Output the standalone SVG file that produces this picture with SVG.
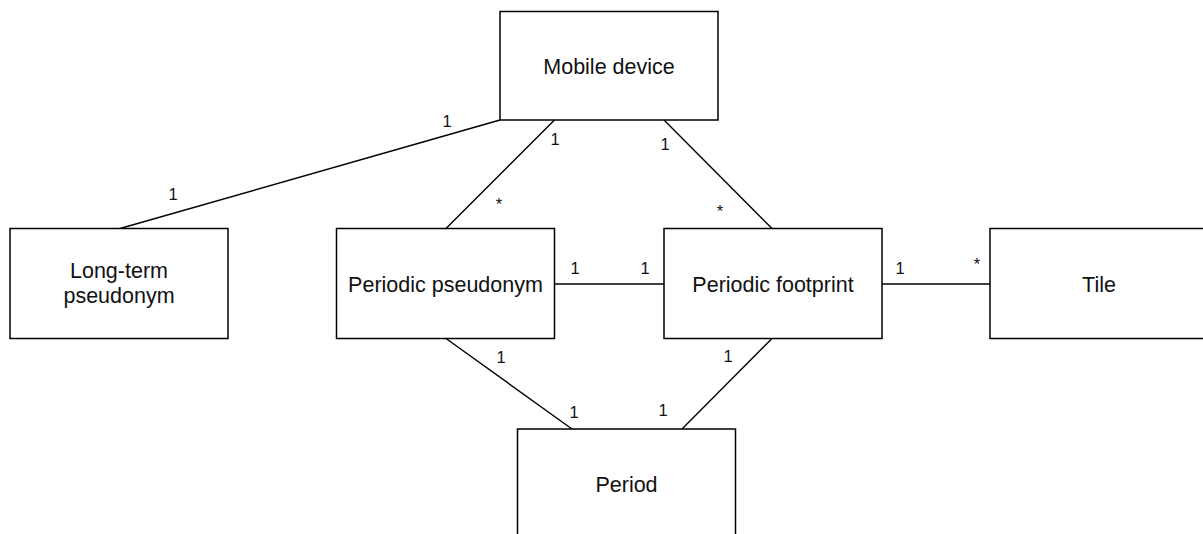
<svg xmlns="http://www.w3.org/2000/svg" width="1203" height="534" viewBox="0 0 1203 534">
  <style>
    .box { fill: #ffffff; stroke: #000000; stroke-width: 1.5; }
    .name { font-family: "Liberation Sans", Arial, Helvetica, sans-serif; font-size: 21.5px; fill: #111111; text-anchor: middle; }
    .link { stroke: #000000; stroke-width: 1.4; fill: none; }
    .mult { font-family: "Liberation Sans", Arial, Helvetica, sans-serif; font-size: 16.5px; fill: #111111; text-anchor: middle; }
  </style>
  <rect x="0" y="0" width="1203" height="534" fill="#ffffff"/>

  <!-- associations -->
  <g id="connectors">
    <line class="link" x1="500" y1="120" x2="120" y2="228.5"/>
    <line class="link" x1="554.5" y1="120" x2="446" y2="228.5"/>
    <line class="link" x1="664" y1="120" x2="772" y2="228.5"/>
    <line class="link" x1="554.5" y1="284" x2="664" y2="284"/>
    <line class="link" x1="882" y1="284" x2="990" y2="284"/>
    <line class="link" x1="446" y1="338.5" x2="572" y2="429"/>
    <line class="link" x1="772" y1="338.5" x2="682" y2="429"/>

    <text class="mult" x="447" y="127">1</text>
    <text class="mult" x="173" y="200">1</text>
    <text class="mult" x="555" y="145">1</text>
    <text class="mult" x="499" y="210">*</text>
    <text class="mult" x="665" y="150">1</text>
    <text class="mult" x="720" y="217">*</text>
    <text class="mult" x="575" y="274">1</text>
    <text class="mult" x="645" y="274">1</text>
    <text class="mult" x="900" y="274">1</text>
    <text class="mult" x="977" y="270">*</text>
    <text class="mult" x="501" y="363">1</text>
    <text class="mult" x="574" y="418">1</text>
    <text class="mult" x="728" y="362">1</text>
    <text class="mult" x="663" y="416">1</text>
  </g>

  <g id="mobile-device">
    <rect class="box" x="500" y="11.5" width="218" height="108.5"/>
    <text class="name" x="609" y="74">Mobile device</text>
  </g>

  <g id="long-term-pseudonym">
    <rect class="box" x="10" y="228.5" width="218" height="110"/>
    <text class="name" x="119" y="278">Long-term</text>
    <text class="name" x="119" y="303">pseudonym</text>
  </g>

  <g id="periodic-pseudonym">
    <rect class="box" x="336.5" y="228.5" width="218" height="110"/>
    <text class="name" x="445.5" y="291.5">Periodic pseudonym</text>
  </g>

  <g id="periodic-footprint">
    <rect class="box" x="664" y="228.5" width="218" height="110"/>
    <text class="name" x="773" y="291.5">Periodic footprint</text>
  </g>

  <g id="tile">
    <rect class="box" x="990" y="228.5" width="218" height="110"/>
    <text class="name" x="1099" y="291.5">Tile</text>
  </g>

  <g id="period">
    <rect class="box" x="517.5" y="429" width="218" height="110"/>
    <text class="name" x="626.5" y="492">Period</text>
  </g>
</svg>
